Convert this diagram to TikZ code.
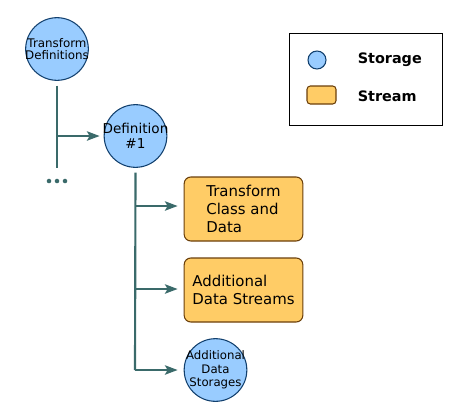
\documentclass[tikz,border=0pt]{standalone}
\usepackage{fontspec}
\setmainfont{DejaVu Sans}
\usetikzlibrary{arrows.meta, positioning}
\definecolor{stfill}{HTML}{99CCFF}
\definecolor{stline}{HTML}{12406E}
\definecolor{smfill}{HTML}{FFCC66}
\definecolor{smline}{HTML}{6B3F0A}
\definecolor{linkcol}{HTML}{3A6A6A}

\begin{document}
\begin{tikzpicture}[
    x=0.75pt, y=-0.75pt,
    >={Stealth[length=9.5pt, width=7pt, inset=2pt]},
    storage/.style={circle, draw=stline, fill=stfill, line width=0.8pt,
      minimum size=47pt, inner sep=-10pt, align=center, text=black},
    stream/.style={rectangle, rounded corners=5pt, draw=smline, fill=smfill,
      line width=0.8pt, minimum width=89pt, minimum height=48pt,
      align=left, text=black, font=\fontsize{11.2}{13.8}\selectfont},
    link/.style={draw=linkcol, line width=1.6pt},
  ]

  \useasboundingbox (0,0) rectangle (459,418);

  % Storages and streams
  \node[storage, font=\fontsize{8.9}{9.5}\selectfont] (tdefs) at (57,49)
    {Transform\\Definitions};
  \node[storage, font=\fontsize{10.2}{11}\selectfont] (def1) at (135.5,136)
    {Definition\\\#1};
  \node[stream] (tcd) at (243.5,209) {Transform\\Class and\\Data};
  \node[stream] (ads) at (243.5,290) {Additional\\Data Streams};
  \node[storage, font=\fontsize{8.8}{10}\selectfont] (adst) at (215.5,370)
    {Additional\\Data\\Storages};

  % Tree lines
  \coordinate (tdefs end) at (57,168);
  \coordinate (tdefs br) at (57,136);
  \coordinate (def1 br1) at (135,206);
  \coordinate (def1 br2) at (135,289);
  \coordinate (def1 end) at (135,370);

  \draw[link] ([yshift=-3.5pt]tdefs.south) -- (tdefs end);
  \draw[link, ->, shorten >=3pt] (tdefs br) -- (tdefs br -| def1.west);

  \draw[link] ([yshift=-3.5pt]def1.south) -- (def1 end);
  \draw[link, ->, shorten >=4.5pt] (def1 br1) -- (def1 br1 -| tcd.west);
  \draw[link, ->, shorten >=4.5pt] (def1 br2) -- (def1 br2 -| ads.west);
  \draw[link, ->, shorten >=4.5pt] (def1 end) -- (adst.west);

  % more definitions
  \foreach \dx in {49,57,65}
    \fill[linkcol] (\dx,181) circle (1.7pt);

  % Legend
  \node[draw=black, line width=0.7pt, minimum width=114.75pt,
    minimum height=69pt, inner sep=0pt] (legend) at (365.5,79) {};
  \node[circle, draw=stline, fill=stfill, line width=0.8pt,
    minimum size=13.5pt, inner sep=0pt] (key st) at (317,60) {};
  \node[rectangle, rounded corners=2.5pt, draw=smline, fill=smfill,
    line width=0.8pt, minimum width=21.75pt, minimum height=13.5pt,
    inner sep=0pt] (key sm) at (321.5,95) {};
  \node[anchor=west, inner sep=0pt, font=\bfseries\fontsize{10.8}{12}\selectfont]
    (key st txt) at (357.5,60) {Storage};
  \node[anchor=west, inner sep=0pt, font=\bfseries\fontsize{10.8}{12}\selectfont]
    (key sm txt) at (357.5,96) {Stream};

\end{tikzpicture}
\end{document}
